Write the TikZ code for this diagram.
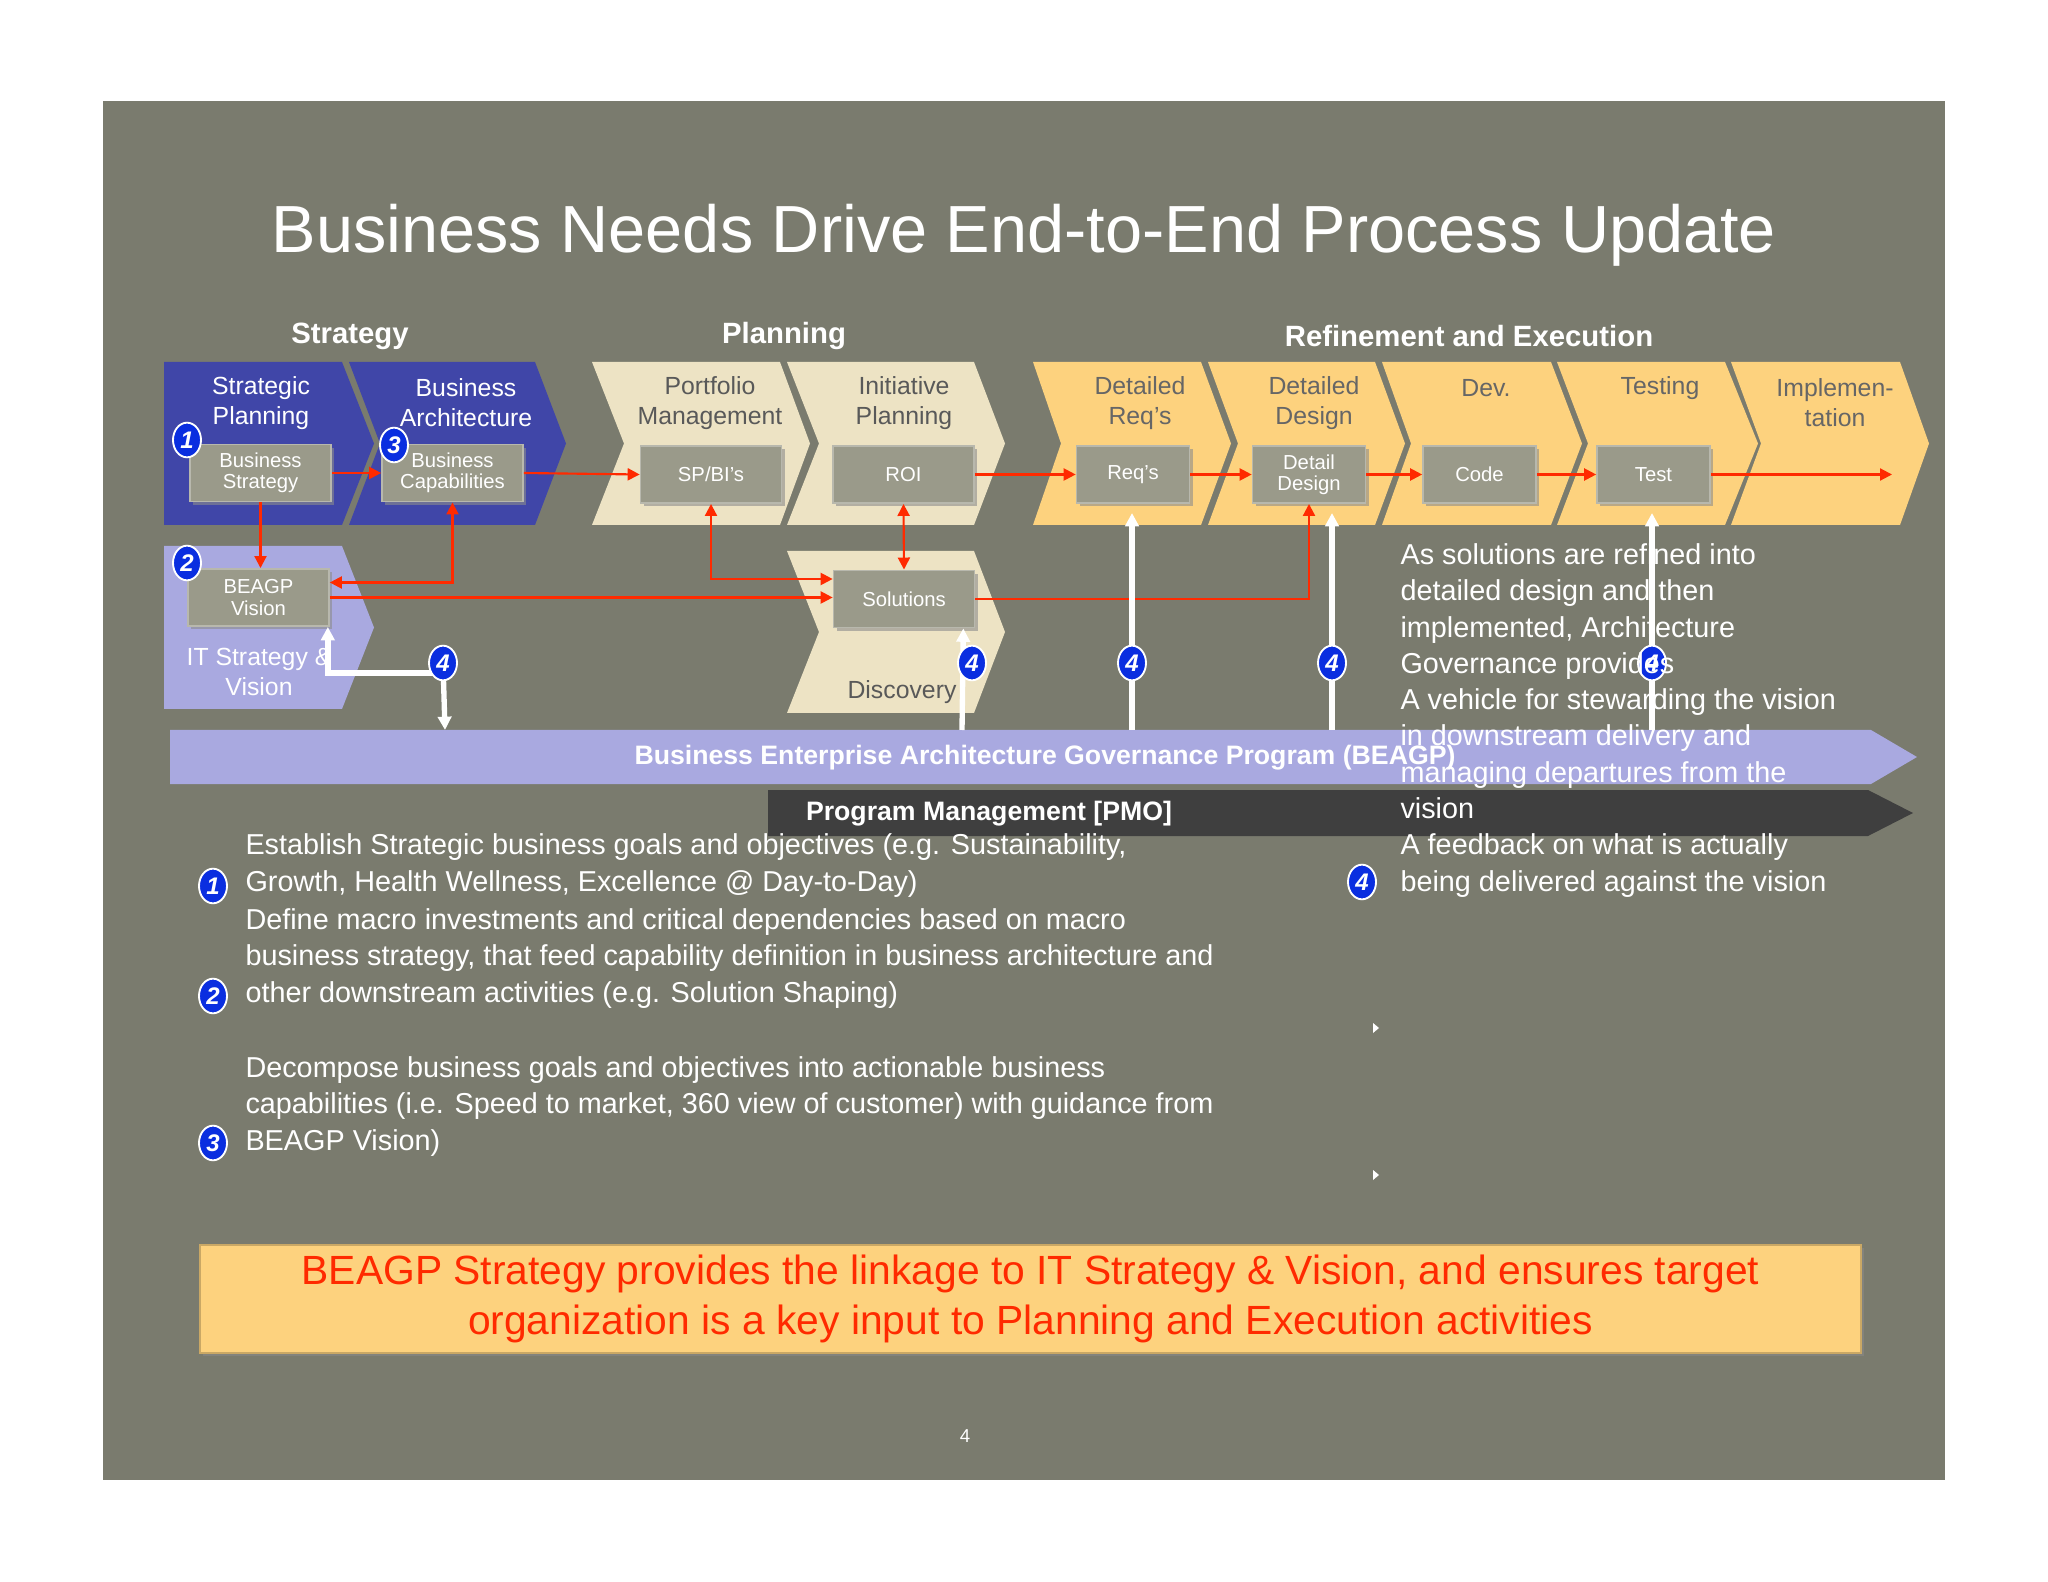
\documentclass[tikz,border=0pt]{standalone}
\usepackage{fontspec}
\setmainfont{Liberation Sans}
\usetikzlibrary{arrows.meta,shadows,calc,shapes.geometric}
\definecolor{bg}{HTML}{7A7B6E}
\definecolor{dblue}{HTML}{4046A8}
\definecolor{lpurple}{HTML}{A9A9E0}
\definecolor{beige}{HTML}{EDE3C4}
\definecolor{yel}{HTML}{FDD27E}
\definecolor{boxg}{HTML}{9A9A8A}
\definecolor{badgeb}{HTML}{0A2EE0}
\definecolor{redl}{HTML}{FF2A00}
\definecolor{pmo}{HTML}{3F3F3F}
\begin{document}
\begin{tikzpicture}[x=0.375pt,y=-0.375pt,
  box/.style={fill=boxg,draw=boxg!70!white,line width=0.6pt,minimum width=52.9pt,minimum height=21.5pt,inner sep=1pt,align=center,text=white,font=\fontsize{7.6}{8}\selectfont,drop shadow={shadow xshift=1.2pt,shadow yshift=-1.2pt,fill=black!45,opacity=0.6}},
  sbox/.style={box,minimum width=42.4pt},
  badge/.style={ellipse,fill=badgeb,draw=white,line width=0.7pt,minimum width=10.5pt,minimum height=13pt,inner sep=0pt,text=white,font=\fontsize{9}{9}\selectfont\bfseries\itshape},
  ra/.style={draw=redl,line width=0.8pt,-{Triangle[length=4.5pt,width=4.5pt]}},
  rab/.style={draw=redl,line width=0.8pt,{Triangle[length=4.5pt,width=4.5pt]}-{Triangle[length=4.5pt,width=4.5pt]}},
  wa/.style={draw=white,line width=2pt,-{Triangle[length=5pt,width=5pt]}},
  wl/.style={draw=white,line width=2pt},
  clab/.style={align=center,font=\fontsize{9.3}{11.2}\selectfont},
  head/.style={text=white,font=\fontsize{11}{12}\selectfont\bfseries},
  body/.style={anchor=base west,align=left,text=white,inner sep=0pt,font=\fontsize{10.8}{13.6}\selectfont}]
\useasboundingbox (0,0) rectangle (2048,1582);
\fill[white] (0,0) rectangle (2048,1582);
\fill[bg] (103,101) rectangle (1945,1480);
\node[text=white,font=\fontsize{25}{28}\selectfont] (title) at (1024,235) {Business Needs Drive End-to-End Process Update};
\node[head] (hs) at (350,336) {Strategy};
\node[head] (hp) at (784,336) {Planning};
\node[head] (hr) at (1469,336) {Refinement and Execution};
% chevrons
\fill[dblue] (164,362) -- (342,362) -- (374,443.5) -- (342,525) -- (164,525) -- cycle;
\fill[dblue] (349,362) -- (535,362) -- (566,443.5) -- (535,525) -- (349,525) -- (380,443.5) -- cycle;
\fill[beige] (592,362) -- (780,362) -- (810,443.5) -- (780,525) -- (592,525) -- (624,443.5) -- cycle;
\fill[beige] (787,362) -- (974,362) -- (1005,443.5) -- (974,525) -- (787,525) -- (819,443.5) -- cycle;
\fill[yel] (1033,362) -- (1201,362) -- (1231,443.5) -- (1201,525) -- (1033,525) -- (1061,443.5) -- cycle;
\fill[yel] (1208,362) -- (1375,362) -- (1405,443.5) -- (1375,525) -- (1208,525) -- (1238,443.5) -- cycle;
\fill[yel] (1382,362) -- (1551,362) -- (1582,443.5) -- (1551,525) -- (1382,525) -- (1411,443.5) -- cycle;
\fill[yel] (1557,362) -- (1725,362) -- (1758,443.5) -- (1725,525) -- (1557,525) -- (1588,443.5) -- cycle;
\fill[yel] (1731,362) -- (1900,362) -- (1929,443.5) -- (1900,525) -- (1731,525) -- (1761,443.5) -- cycle;
\fill[lpurple] (164,546) -- (342,546) -- (374,627.5) -- (342,709) -- (164,709) -- cycle;
\fill[beige] (787,551) -- (974,551) -- (1005,632) -- (974,713) -- (787,713) -- (819,632) -- cycle;
% bars
\fill[lpurple] (170,730) -- (1871,730) -- (1917,757) -- (1871,784) -- (170,784) -- cycle;
\fill[pmo] (768,790) -- (1868,790) -- (1913,813) -- (1868,836) -- (768,836) -- cycle;
\node[text=white,font=\fontsize{10}{11}\selectfont\bfseries] (beagp) at (1045,758) {Business Enterprise Architecture Governance Program (BEAGP)};
\node[text=white,font=\fontsize{10}{11}\selectfont\bfseries] (pmot) at (989,814) {Program Management [PMO]};
% chevron labels
\node[clab,text=white] (l1) at (261,403) {Strategic\\Planning};
\node[clab,text=white] (l2) at (466,403) {Business\\Architecture};
\node[clab,text=black!65] (l3) at (710,403) {Portfolio\\Management};
\node[clab,text=black!65] (l4) at (904,403) {Initiative\\Planning};
\node[clab,text=black!60] (l5) at (1140,403) {Detailed\\Req’s};
\node[clab,text=black!60] (l6) at (1314,403) {Detailed\\Design};
\node[clab,text=black!60] (l7) at (1486,388) {Dev.};
\node[clab,text=black!60] (l8) at (1660,388) {Testing};
\node[clab,text=black!60] (l9) at (1835,403) {Implemen-\\tation};
\node[clab,text=white] (l10) at (259,672) {IT Strategy \&\\Vision};
\node[clab,text=black!65] (l11) at (902,692) {Discovery};
% boxes
\node[box] (bs) at (260.5,473) {Business\\Strategy};
\node[box] (bc) at (452.5,473) {Business\\Capabilities};
\node[box] (sp) at (711,474.5) {SP/BI’s};
\node[box] (roi) at (903.5,474.5) {ROI};
\node[box] (bv) at (258.5,597.5) {BEAGP\\Vision};
\node[box] (sol) at (904,599) {Solutions};
\node[sbox] (req) at (1133,474.5) {Req’s};
\node[sbox] (dd) at (1309,474.5) {Detail\\Design};
\node[sbox] (code) at (1479.5,474.5) {Code};
\node[sbox] (test) at (1653.5,474.5) {Test};
\coordinate (end) at (1892,474.5);
% red connectors
\draw[ra] (bs.east) -- (bc.west);
\draw[ra] (bc.east) -- (sp.west);
\draw[ra] (roi.east) -- (req.west);
\draw[ra] (req.east) -- (dd.west);
\draw[ra] (dd.east) -- (code.west);
\draw[ra] (code.east) -- (test.west);
\draw[ra] (test.east) -- (end);
\draw[ra] (bs.south) -- (bs.south |- bv.north);
\draw[rab] (bc.south) |- ($(bv.east)+(0,-15)$);
\draw[ra] (bv.east) -- (bv.east -| sol.west);
\draw[rab] (sp.south) |- ($(sol.west)+(0,-20)$);
\draw[rab] (roi.south) -- (sol.north);
\draw[ra] (sol.east) -| (dd.south);
% white connectors
\coordinate (b4a) at (443,663);
\coordinate (w1) at (425,673);
\draw[wl] (b4a) |- (w1);
\draw[wa] (w1) -| ($(bv.south east)+(-2,0)$);
\draw[wa] (b4a) -- (445,730);
\draw[wa] (962,730) -- ($(sol.south east)+(-12,0)$);
\draw[wa] (1132,730) -- (1132,513);
\draw[wa] (1332,730) -- (1332,513);
\draw[wa] (1652,730) -- (1652,513);
% badges
\node[badge] (n1) at (187,440) {1};
\node[badge] (n3) at (394,445) {3};
\node[badge] (n2) at (187,563) {2};
\node[badge] (n4a) at (443,663) {4};
\node[badge] (n4b) at (972,663) {4};
\node[badge] (n4c) at (1132,663) {4};
\node[badge] (n4d) at (1332,663) {4};
\node[badge] (n4e) at (1652,663) {4};
% bottom text
\node[badge] (m1) at (213,886) {1};
\node[badge] (m2) at (213,996) {2};
\node[badge] (m3) at (213,1143) {3};
\node[badge] (m4) at (1362,882) {4};
\node[body] (t1) at (245,891) {Establish Strategic business goals and objectives (e.g. Sustainability,\\Growth, Health Wellness, Excellence @ Day-to-Day)};
\node[body] (t2) at (245,1002) {Define macro investments and critical dependencies based on macro\\business strategy, that feed capability definition in business architecture and\\other downstream activities (e.g. Solution Shaping)};
\node[body] (t3) at (245,1150) {Decompose business goals and objectives into actionable business\\capabilities (i.e. Speed to market, 360 view of customer) with guidance from\\BEAGP Vision)};
\node[body] (t4) at (1400,891) {As solutions are refined into\\detailed design and then\\implemented, Architecture\\Governance provides\\A vehicle for stewarding the vision\\in downstream delivery and\\managing departures from the\\vision\\A feedback on what is actually\\being delivered against the vision};
\fill[white] (1373,1023) -- (1379,1028) -- (1373,1033) -- cycle;
\fill[white] (1373,1170) -- (1379,1175) -- (1373,1180) -- cycle;
% yellow box
\node[fill=yel,draw=yel!80!black,line width=0.5pt,minimum width=622.9pt,minimum height=40.5pt,align=center,text=redl,font=\fontsize{15.3}{18.7}\selectfont,drop shadow={shadow xshift=1.2pt,shadow yshift=-1.2pt,fill=black!45,opacity=0.5}] (yb) at (1030.5,1299) {BEAGP Strategy provides the linkage to IT Strategy \& Vision, and ensures target\\organization is a key input to Planning and Execution activities};
\node[text=white,font=\fontsize{7}{8}\selectfont] (pg) at (965,1436) {4};
\end{tikzpicture}
\end{document}
